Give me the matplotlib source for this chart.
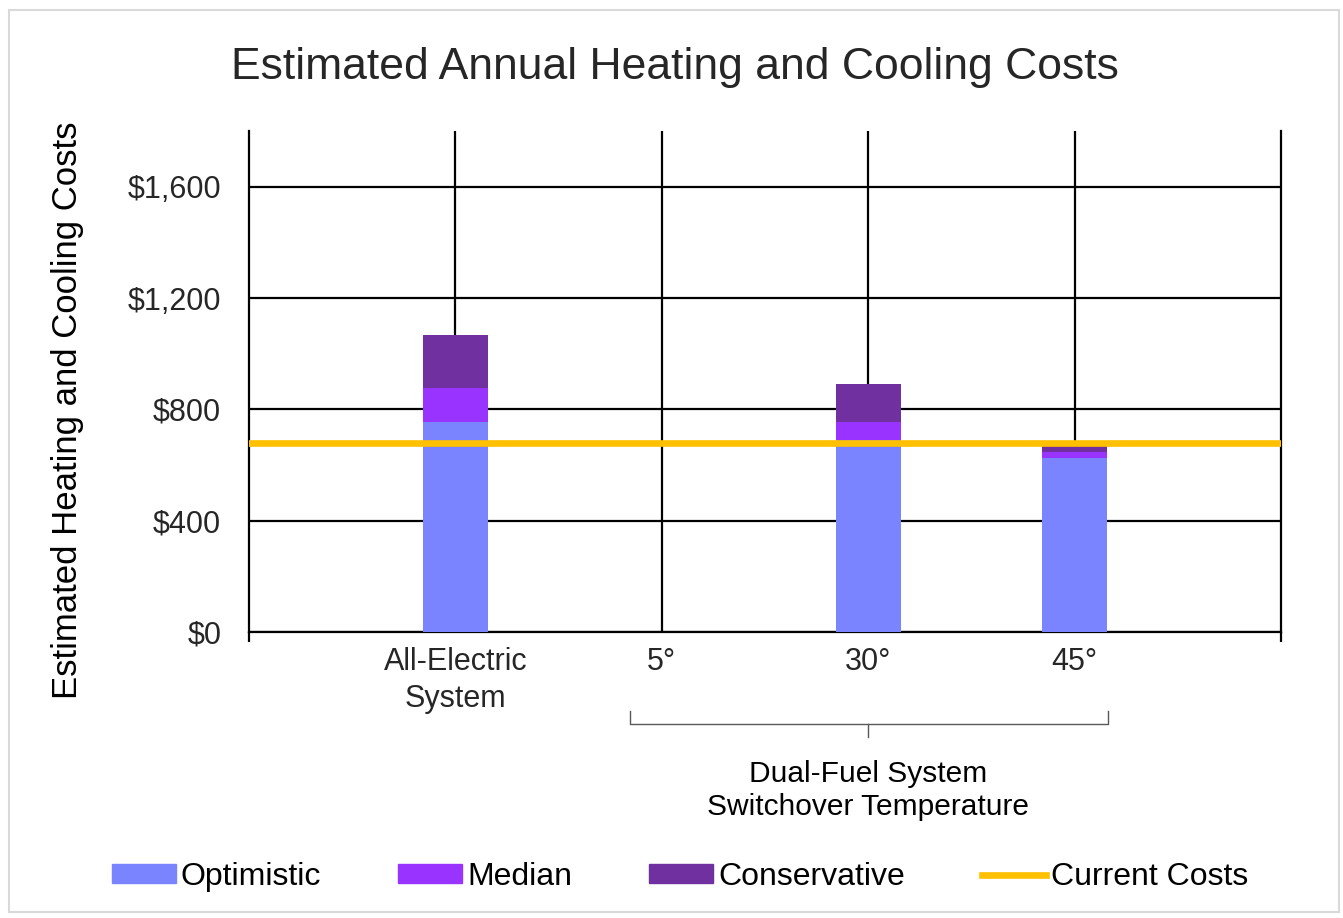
import matplotlib
matplotlib.use("Agg")
import matplotlib.pyplot as plt
import matplotlib.patches as mpatches
from matplotlib.lines import Line2D

plt.rcParams["font.family"] = ["Liberation Sans", "DejaVu Sans"]

# Scenario costs per system, stacked as increments on top of each other
CATEGORIES = ["All-Electric\nSystem", "5°", "30°", "45°"]
OPTIMISTIC = [755, 0, 690, 624]
MEDIAN_EXTRA = [120, 0, 65, 23]
CONSERVATIVE_EXTRA = [193, 0, 135, 21]
CURRENT_COSTS = 680

Y_TICKS = [0, 400, 800, 1200, 1600]
Y_TICK_LABELS = ["$0", "$400", "$800", "$1,200", "$1,600"]

COLOURS = {
    "Optimistic": "#7A84FF",
    "Median": "#9933FF",
    "Conservative": "#7030A0",
    "Current Costs": "#FFC000",
}

W, H = 1343, 918
fig = plt.figure(figsize=(W / 100, H / 100), dpi=100)
ax = fig.add_axes([249 / W, 1 - 632 / H, 1032 / W, 501 / H])

# thin grey frame around the whole chart
fig.patches.append(mpatches.Rectangle((9 / W, 6 / H), 1330 / W, 902 / H,
                                      transform=fig.transFigure, fill=False,
                                      edgecolor="#D9D9D9", linewidth=1.5))

xs = list(range(1, len(CATEGORIES) + 1))
width = 0.315
median_base = [o for o in OPTIMISTIC]
cons_base = [o + m for o, m in zip(OPTIMISTIC, MEDIAN_EXTRA)]

ax.bar(xs, OPTIMISTIC, width, color=COLOURS["Optimistic"], zorder=3)
ax.bar(xs, MEDIAN_EXTRA, width, bottom=median_base, color=COLOURS["Median"], zorder=3)
ax.bar(xs, CONSERVATIVE_EXTRA, width, bottom=cons_base, color=COLOURS["Conservative"], zorder=3)
ax.axhline(CURRENT_COSTS, color=COLOURS["Current Costs"], linewidth=4.8, zorder=4)

ax.set_xlim(0, 5)
ax.set_ylim(0, 1800)

# gridlines: horizontal at each tick, vertical through each category
for y in Y_TICKS:
    ax.axhline(y, color="black", linewidth=1.6, zorder=1)
for x in xs:
    ax.axvline(x, color="black", linewidth=1.6, zorder=1)

ax.spines["top"].set_visible(False)
for side in ["left", "right", "bottom"]:
    ax.spines[side].set_linewidth(1.6)

ax.set_yticks(Y_TICKS)
ax.set_yticklabels(Y_TICK_LABELS, fontsize=22, color="#262626")
ax.tick_params(axis="y", length=0, pad=20)
ax.set_xticks([0, 5])
ax.set_xticklabels(["", ""])
ax.tick_params(axis="x", length=7, width=1.6, direction="out")

fig.text(68 / W, 1 - 410 / H, "Estimated Heating and Cooling Costs", rotation=90,
         ha="center", va="center", fontsize=25, color="black")

# category labels under the axis
for x, label in zip(xs, CATEGORIES):
    ax.text(x, -0.03, label, transform=ax.get_xaxis_transform(), ha="center", va="top",
            fontsize=22, color="#262626", linespacing=1.3)

# brace grouping the dual-fuel switchover temperatures
bx0, bx1, bmid = 1.845, 4.16, 3.0
by_top, by_mid, by_tip = -0.157, -0.183, -0.21
tr = ax.get_xaxis_transform()
ax.plot([bx0, bx0, bx1, bx1], [by_top, by_mid, by_mid, by_top], transform=tr,
        color="#595959", linewidth=1.0, clip_on=False)
ax.plot([bmid, bmid], [by_mid, by_tip], transform=tr, color="#595959",
        linewidth=1.0, clip_on=False)
ax.text(bmid, -0.255, "Dual-Fuel System\nSwitchover Temperature", transform=tr,
        ha="center", va="top", fontsize=21.5, color="black", linespacing=1.25)

fig.text(675 / W, 1 - 68 / H, "Estimated Annual Heating and Cooling Costs", ha="center",
         va="center", fontsize=32, color="#262626")

handles = [
    mpatches.Patch(color=COLOURS["Optimistic"], label="Optimistic"),
    mpatches.Patch(color=COLOURS["Median"], label="Median"),
    mpatches.Patch(color=COLOURS["Conservative"], label="Conservative"),
    Line2D([0], [0], color=COLOURS["Current Costs"], linewidth=4.8, label="Current Costs"),
]
fig.legend(handles=handles, loc="center", bbox_to_anchor=(680 / W, 1 - 877 / H), ncol=4,
           frameon=False, fontsize=23, handlelength=2.0, handleheight=0.55,
           handletextpad=0.17, columnspacing=2.4)

fig.savefig("out.png", dpi=100)
